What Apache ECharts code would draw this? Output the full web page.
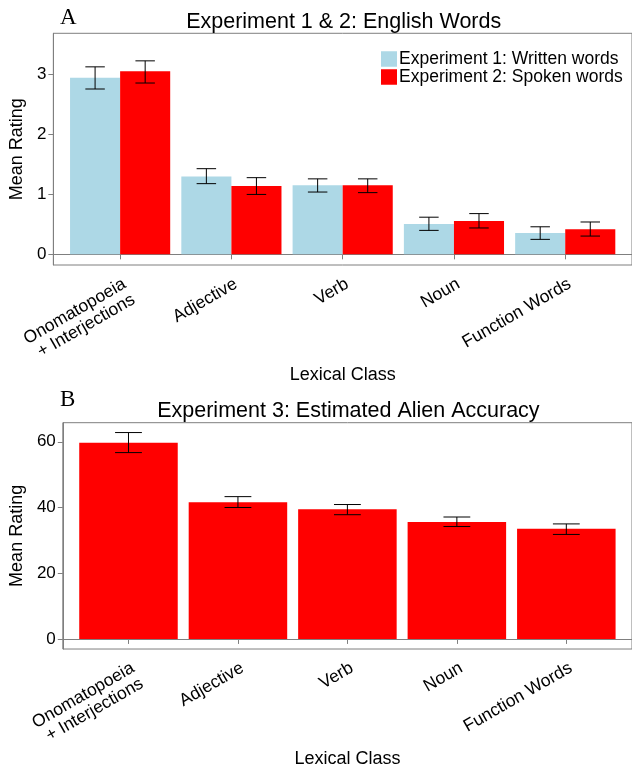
<!DOCTYPE html>
<html><head><meta charset="utf-8">
<script src="https://cdn.jsdelivr.net/npm/echarts@6/dist/echarts.min.js"></script>
<style>html,body{margin:0;padding:0;background:#fff}#c{width:632px;height:769px}</style>
</head><body><div id="c"></div>
<script>
// ---- data ----
const categories = ['Onomatopoeia\n+ Interjections', 'Adjective', 'Verb', 'Noun', 'Function Words'];
const seriesNames = ['Experiment 1: Written words', 'Experiment 2: Spoken words'];
const exp1Mean  = [2.95, 1.30, 1.155, 0.505, 0.355];
const exp1Lower = [2.76, 1.18, 1.04, 0.40, 0.25];
const exp1Upper = [3.13, 1.43, 1.26, 0.62, 0.46];
const exp2Mean  = [3.055, 1.14, 1.155, 0.555, 0.42];
const exp2Lower = [2.86, 1.00, 1.03, 0.44, 0.305];
const exp2Upper = [3.23, 1.28, 1.26, 0.68, 0.54];
const exp3Mean  = [59.7, 41.6, 39.5, 35.6, 33.5];
const exp3Lower = [56.7, 40.0, 37.8, 34.2, 31.8];
const exp3Upper = [62.8, 43.3, 40.9, 37.1, 35.0];
const catPositions = [1, 2, 3, 4, 5];
const yTicksTop = [0, 1, 2, 3];
const yTicksBottom = [0, 20, 40, 60];

// ---- styling ----
const FONT = '"Liberation Sans", Arial, Helvetica, sans-serif';
const GREY = '#7f7f7f';
const BLUE = '#ADD8E6';
const RED = '#FF0000';

function makeData(means, lo, hi) {
  return means.map((m, i) => [catPositions[i], m, lo[i], hi[i]]);
}

function renderBar(offset, width, whisker) {
  return function (params, api) {
    const x = api.value(0), m = api.value(1), l = api.value(2), h = api.value(3);
    const cx = x + offset;
    const a = api.coord([cx - width / 2, m]);
    const b = api.coord([cx + width / 2, 0]);
    const top = api.coord([cx, h]);
    const bot = api.coord([cx, l]);
    const wl = api.coord([cx - whisker / 2, h])[0];
    const wr = api.coord([cx + whisker / 2, h])[0];
    const ls = { stroke: '#000', lineWidth: 1 };
    return {
      type: 'group',
      children: [
        { type: 'rect', shape: { x: a[0], y: a[1], width: b[0] - a[0], height: b[1] - a[1] }, style: { fill: api.visual('color') } },
        { type: 'line', shape: { x1: top[0], y1: top[1], x2: bot[0], y2: bot[1] }, style: ls },
        { type: 'line', shape: { x1: wl, y1: top[1], x2: wr, y2: top[1] }, style: ls },
        { type: 'line', shape: { x1: wl, y1: bot[1], x2: wr, y2: bot[1] }, style: ls }
      ]
    };
  };
}

function xAxisDef(gridIndex, nameGap) {
  return {
    type: 'value', gridIndex: gridIndex, min: 0.4, max: 5.6,
    axisLine: { show: true, lineStyle: { color: GREY, width: 1 } },
    axisTick: { show: true, length: 5, customValues: catPositions, lineStyle: { color: GREY } },
    axisLabel: {
      customValues: catPositions,
      formatter: v => categories[Math.round(v) - 1],
      rotate: 30, align: 'right', verticalAlign: 'top', margin: 10,
      fontSize: 17.5, color: '#000', fontFamily: FONT, lineHeight: 18
    },
    splitLine: { show: false },
    name: 'Lexical Class', nameLocation: 'middle', nameGap: nameGap,
    nameTextStyle: { fontSize: 18, color: '#000', fontFamily: FONT }
  };
}

function yAxisDef(gridIndex, min, max, ticks, nameGap) {
  return {
    type: 'value', gridIndex: gridIndex, min: min, max: max,
    axisLine: { show: true, lineStyle: { color: GREY, width: 1 } },
    axisTick: { show: true, length: 5, customValues: ticks, lineStyle: { color: GREY } },
    axisLabel: { customValues: ticks, margin: 7, fontSize: 17, color: '#000', fontFamily: FONT },
    splitLine: { show: false },
    name: 'Mean Rating', nameLocation: 'middle', nameGap: nameGap,
    nameTextStyle: { fontSize: 18, color: '#000', fontFamily: FONT }
  };
}

const chart = echarts.init(document.getElementById('c'), null, { renderer: 'canvas' });
chart.setOption({
  animation: false,
  backgroundColor: '#fff',
  grid: [
    { left: 47.5, top: 33.3, width: 592.5, height: 231.7, show: true, borderColor: GREY, borderWidth: 1, backgroundColor: 'transparent' },
    { left: 57.3, top: 422.7, width: 582.2, height: 231.3, show: true, borderColor: GREY, borderWidth: 1, backgroundColor: 'transparent' }
  ],
  xAxis: [xAxisDef(0, 95), xAxisDef(1, 97)],
  yAxis: [yAxisDef(0, -0.178, 3.69, yTicksTop, 21), yAxisDef(1, -3.07, 65.8, yTicksBottom, 28)],
  legend: {
    data: seriesNames, orient: 'vertical', left: 381, top: 50, padding: 0,
    itemWidth: 16, itemHeight: 15.5, itemGap: 0, icon: 'rect', selectedMode: false,
    textStyle: { fontSize: 17.5, color: '#000', fontFamily: FONT, lineHeight: 15.5, padding: [0, 0, 0, -3] }
  },
  graphic: [
    { type: 'text', x: 60, y: 6, style: { text: 'A', font: '23px "Liberation Serif", "Times New Roman", serif', fill: '#000', textAlign: 'left', textVerticalAlign: 'top' } },
    { type: 'text', x: 343.7, y: 11, style: { text: 'Experiment 1 & 2: English Words', font: '21.5px ' + FONT, fill: '#000', textAlign: 'center', textVerticalAlign: 'top' } },
    { type: 'text', x: 60, y: 388, style: { text: 'B', font: '23px "Liberation Serif", "Times New Roman", serif', fill: '#000', textAlign: 'left', textVerticalAlign: 'top' } },
    { type: 'text', x: 348.4, y: 400, style: { text: 'Experiment 3: Estimated Alien Accuracy', font: '21.5px ' + FONT, fill: '#000', textAlign: 'center', textVerticalAlign: 'top' } }
  ],
  series: [
    { type: 'custom', name: seriesNames[0], xAxisIndex: 0, yAxisIndex: 0, itemStyle: { color: BLUE },
      renderItem: renderBar(-0.225, 0.45, 0.175), encode: { x: 0, y: [1, 2, 3] }, data: makeData(exp1Mean, exp1Lower, exp1Upper) },
    { type: 'custom', name: seriesNames[1], xAxisIndex: 0, yAxisIndex: 0, itemStyle: { color: RED },
      renderItem: renderBar(0.225, 0.45, 0.175), encode: { x: 0, y: [1, 2, 3] }, data: makeData(exp2Mean, exp2Lower, exp2Upper) },
    { type: 'custom', name: 'Experiment 3', xAxisIndex: 1, yAxisIndex: 1, itemStyle: { color: RED },
      renderItem: renderBar(0, 0.9, 0.245), encode: { x: 0, y: [1, 2, 3] }, data: makeData(exp3Mean, exp3Lower, exp3Upper) }
  ]
});
</script>
</body></html>
